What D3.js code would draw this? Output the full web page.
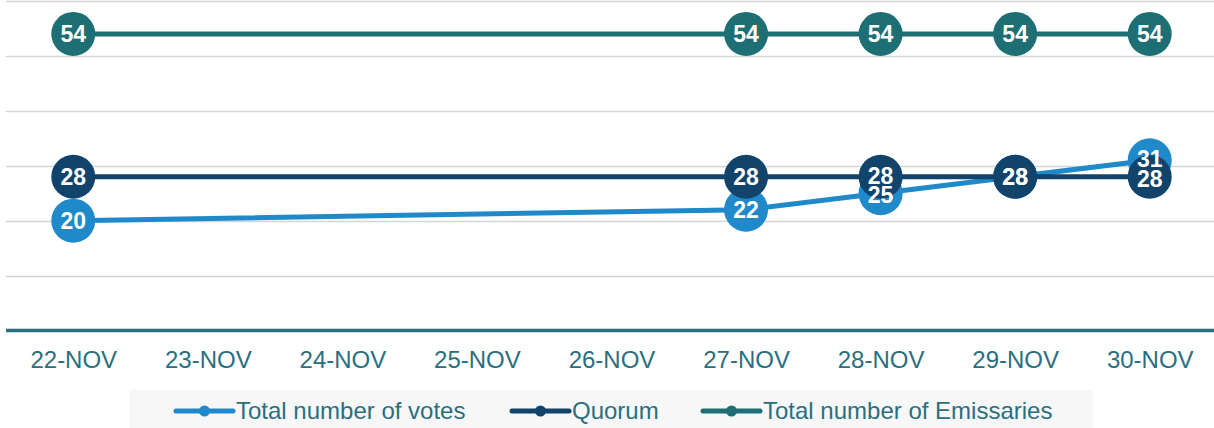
<!DOCTYPE html>
<html><head><meta charset="utf-8">
<script src="https://cdn.jsdelivr.net/npm/d3@7"></script>
<style>
html,body{margin:0;padding:0;background:#fff;}
svg{display:block;font-family:"Liberation Sans",Arial,sans-serif;}
</style></head>
<body><svg id="chart" width="1214" height="428"></svg>
<script>
const categories = ["22-NOV","23-NOV","24-NOV","25-NOV","26-NOV","27-NOV","28-NOV","29-NOV","30-NOV"];
const votes      = [20, null, null, null, null, 22, 25, 28, 31];
const quorum     = [28, null, null, null, null, 28, 28, 28, 28];
const emissaries = [54, null, null, null, null, 54, 54, 54, 54];
const seriesNames = ["Total number of votes","Quorum","Total number of Emissaries"];
const yTicks = [0,10,20,30,40,50,60];

const colors = {votes:"#1f89c9", quorum:"#11436b", emis:"#1e6f73"};
const textColor = "#2a6f80";

const svg = d3.select("#chart");
const x = d3.scalePoint().domain(categories).range([6,1217]).padding(0.5);
const y = d3.scaleLinear().domain([0,60]).range([330.5,1]);

// gridlines
svg.append("g").selectAll("line").data(yTicks.filter(t=>t>0)).join("line")
  .attr("x1",6).attr("x2",1214)
  .attr("y1",d=>Math.round(y(d))+0.5).attr("y2",d=>Math.round(y(d))+0.5)
  .attr("stroke","#d2d6d6").attr("stroke-width",1.5);

// x axis
const xAxis = d3.axisBottom(x).tickSize(0).tickPadding(20);
const gx = svg.append("g").attr("transform",`translate(0,${y(0)})`).call(xAxis);
gx.select(".domain").remove();
gx.selectAll("text").attr("font-size",24).attr("fill",textColor)
  .attr("font-family","Liberation Sans, Arial, sans-serif");
svg.append("line").attr("x1",6).attr("x2",1214).attr("y1",y(0)).attr("y2",y(0))
  .attr("stroke","#2a6f80").attr("stroke-width",3.5);

const series = [
  {key:"votes", name:seriesNames[0], data:votes, color:colors.votes},
  {key:"quorum", name:seriesNames[1], data:quorum, color:colors.quorum},
  {key:"emis", name:seriesNames[2], data:emissaries, color:colors.emis}
];

const line = d3.line().x(d=>x(d.c)).y(d=>y(d.v));
const R = 22;
series.forEach(s=>{
  const pts = categories.map((c,i)=>({c, v:s.data[i], key:s.key})).filter(d=>d.v!=null);
  s.pts = pts;
  const g = svg.append("g");
  g.append("path").datum(pts).attr("d",line).attr("fill","none")
    .attr("stroke",s.color).attr("stroke-width",5);
  g.selectAll("circle").data(pts).join("circle")
    .attr("cx",d=>x(d.c)).attr("cy",d=>y(d.v)).attr("r",R).attr("fill",s.color);
});

// labels with simple collision avoidance per column (identical values share one spot)
const labels = [];
series.forEach(s=>s.pts.forEach(p=>labels.push({c:p.c, v:p.v, ly:y(p.v)})));
categories.forEach(c=>{
  const col = labels.filter(l=>l.c===c).sort((a,b)=>a.ly-b.ly);
  for(let i=1;i<col.length;i++){
    if(col[i].v===col[i-1].v) continue;
    const gap = col[i].ly - col[i-1].ly;
    const minGap = 19.5;
    if(gap<minGap){
      const push=(minGap-gap)/2;
      col[i-1].ly-=push; col[i].ly+=push;
    }
  }
});
svg.append("g").selectAll("text").data(labels).join("text")
  .attr("x",d=>x(d.c)).attr("y",d=>d.ly).attr("dy","0.36em")
  .attr("text-anchor","middle").attr("fill","#fff").attr("font-weight","bold")
  .attr("font-size",23).text(d=>d.v);

// legend
const lg = svg.append("g");
lg.append("rect").attr("x",130).attr("y",390).attr("width",963).attr("height",40).attr("fill","#f7f7f7");
const legendX = [176, 512, 703];
series.forEach((s,i)=>{
  const g = lg.append("g").attr("transform",`translate(${legendX[i]},411)`);
  g.append("line").attr("x1",0).attr("x2",57).attr("stroke",s.color).attr("stroke-width",5).attr("stroke-linecap","round");
  g.append("circle").attr("cx",28.5).attr("r",5.5).attr("fill",s.color);
  g.append("text").attr("x",60).attr("dy","0.35em").attr("font-size",24).attr("fill",textColor).text(s.name);
});
</script></body></html>
